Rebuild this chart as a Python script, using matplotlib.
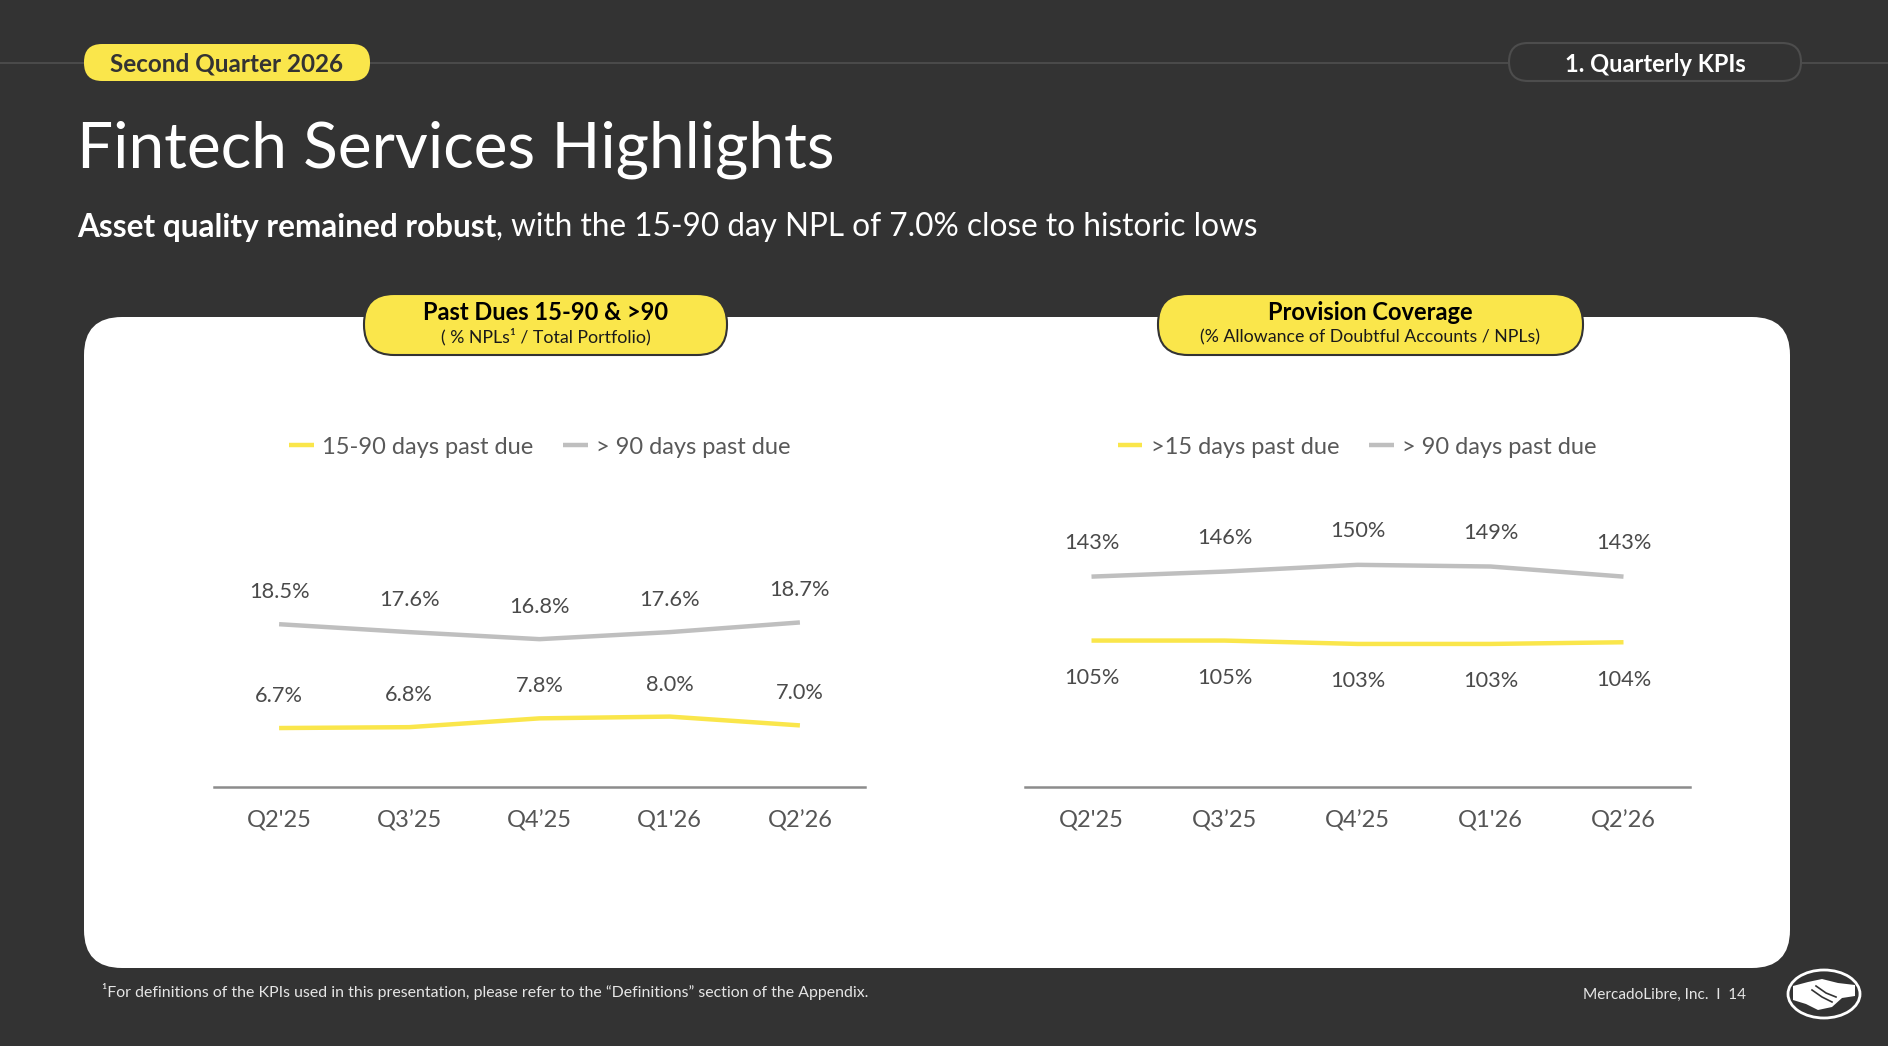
import matplotlib
matplotlib.use("Agg")
import matplotlib.pyplot as plt
from matplotlib.patches import FancyBboxPatch, Ellipse, Polygon

# ---------------- data ----------------
quarters = ["Q2'25", "Q3\u201925", "Q4\u201925", "Q1'26", "Q2\u201926"]
npl_15_90 = [6.7, 6.8, 7.8, 8.0, 7.0]
npl_90 = [18.5, 17.6, 16.8, 17.6, 18.7]
cov_15 = [105, 105, 103, 103, 104]
cov_90 = [143, 146, 150, 149, 143]

left_series_names = ["15-90 days past due", "> 90 days past due"]
right_series_names = [">15 days past due", "> 90 days past due"]

# ---------------- style ----------------
BG = "#333333"
YELLOW = "#FAE64B"
GREY_LINE = "#BFBFBF"
TXT = "#4a4a4a"
FONT = ["Lato", "DejaVu Sans"]
plt.rcParams["font.family"] = FONT

W, H = 1888, 1046
fig = plt.figure(figsize=(W / 100, H / 100), dpi=100, facecolor=BG)

bg = fig.add_axes([0, 0, 1, 1])
bg.set_xlim(0, W)
bg.set_ylim(H, 0)
bg.axis("off")
bg.set_facecolor(BG)

# top rule
bg.plot([0, W], [63, 63], color="#4a4a4a", lw=1.5, zorder=1)

# yellow quarter pill
bg.add_patch(FancyBboxPatch((84, 44), 286, 37, boxstyle="round,pad=0,rounding_size=18",
                            fc=YELLOW, ec="none", zorder=2))
bg.text(227, 64, "Second Quarter 2026", ha="center", va="center", fontsize=17.5,
        fontweight="bold", color="#333333", zorder=3)

# dark section pill
bg.add_patch(FancyBboxPatch((1509, 43), 292, 38, boxstyle="round,pad=0,rounding_size=19",
                            fc=BG, ec="#4d4d4d", lw=1.5, zorder=2))
bg.text(1655, 64, "1. Quarterly KPIs", ha="center", va="center", fontsize=17,
        fontweight="bold", color="white", zorder=3)

# title
bg.text(77, 150, "Fintech Services Highlights", ha="left", va="center", fontsize=46,
        fontweight="normal", color="white")

# subtitle (mixed weight)
t1 = bg.text(77, 227, "Asset quality remained robust", ha="left", va="center", fontsize=22.7,
             fontweight="bold", color="white")
fig.canvas.draw()
r = fig.canvas.get_renderer()
bb = t1.get_window_extent(renderer=r)
bg.text(bb.x1, 227, ", with the 15-90 day NPL of 7.0% close to historic lows", ha="left",
        va="center", fontsize=22.7, color="white")

# white panel
bg.add_patch(FancyBboxPatch((84, 317), 1706, 651, boxstyle="round,pad=0,rounding_size=38",
                            fc="white", ec="none", zorder=1))

# chart header pills
def header_pill(x0, x1, title, sub):
    bg.add_patch(FancyBboxPatch((x0, 294), x1 - x0, 61, boxstyle="round,pad=0,rounding_size=30",
                                fc=YELLOW, ec="#333333", lw=1.5, zorder=3))
    cx = (x0 + x1) / 2
    bg.text(cx, 313, title, ha="center", va="center", fontsize=17, fontweight="bold",
            color="black", zorder=4)
    bg.text(cx, 337, sub, ha="center", va="center", fontsize=12.8, color="#1a1a1a", zorder=4)

header_pill(364, 727, "Past Dues 15-90 & >90", "( % NPLs\u00b9 / Total Portfolio)")
header_pill(1158, 1583, "Provision Coverage", "(% Allowance of Doubtful Accounts / NPLs)")

# footer
bg.text(102, 992, "\u00b9For definitions of the KPIs used in this presentation, please refer to the "
        "\u201cDefinitions\u201d section of the Appendix.", ha="left", va="center",
        fontsize=11.4, color="#e6e6e6")
bg.text(1746, 995, "MercadoLibre, Inc.  I  14", ha="right", va="center", fontsize=11.1,
        color="#e6e6e6")

# logo (simplified handshake emblem)
bg.add_patch(Ellipse((1824, 994), 72, 48, fc="none", ec="white", lw=2, zorder=3))
bg.add_patch(Ellipse((1824, 994), 64, 40, fc=BG, ec="none", zorder=3))
bg.add_patch(Polygon([[1793, 986], [1808, 982], [1822, 979], [1838, 983], [1855, 985],
                      [1855, 996], [1842, 998], [1832, 1007], [1818, 1010], [1806, 1004],
                      [1793, 1000]], closed=True, fc="white", ec="none", zorder=4))
bg.plot([1812, 1822, 1832], [990, 997, 1002], color=BG, lw=1.2, zorder=5)
bg.plot([1816, 1826, 1836], [986, 993, 997], color=BG, lw=1.2, zorder=5)


def px_axes(x0, x1, ytop, ybot):
    return fig.add_axes([x0 / W, 1 - ybot / H, (x1 - x0) / W, (ybot - ytop) / H])


def style_axes(ax):
    ax.set_facecolor("none")
    for s in ["top", "left", "right"]:
        ax.spines[s].set_visible(False)
    ax.spines["bottom"].set_color("#8c8c8c")
    ax.spines["bottom"].set_linewidth(1.8)
    ax.set_yticks([])
    ax.set_xticks(range(len(quarters)))
    ax.set_xticklabels(quarters)
    ax.tick_params(axis="x", length=0, pad=16.5, labelsize=17, labelcolor="#555555")
    ax.set_xlim(-0.5, len(quarters) - 0.5)


x = list(range(len(quarters)))

# ---------------- left chart ----------------
axL = px_axes(214, 865, 567, 787)
style_axes(axL)
axL.set_ylim(0, 25)
lY, = axL.plot(x, npl_15_90, color=YELLOW, lw=3.2, solid_capstyle="butt",
               label=left_series_names[0])
lG, = axL.plot(x, npl_90, color=GREY_LINE, lw=3.2, solid_capstyle="butt",
               label=left_series_names[1])
for i, v in enumerate(npl_15_90):
    axL.annotate(f"{v:.1f}%", (i, v), xytext=(0, 23), textcoords="offset points",
                 ha="center", va="center", fontsize=15.7, color=TXT, annotation_clip=False)
for i, v in enumerate(npl_90):
    axL.annotate(f"{v:.1f}%", (i, v), xytext=(0, 23), textcoords="offset points",
                 ha="center", va="center", fontsize=15.7, color=TXT, annotation_clip=False)
axL.legend(handles=[lY, lG], loc="center", bbox_to_anchor=(540 / W, 1 - 447 / H),
           bbox_transform=fig.transFigure, ncol=2, frameon=False, fontsize=17,
           handlelength=1.05, handletextpad=0.35, columnspacing=1.25, labelcolor="#595959")

# ---------------- right chart ----------------
axR = px_axes(1025, 1690, 548, 787)
style_axes(axR)
axR.set_ylim(18, 160)
rY, = axR.plot(x, cov_15, color=YELLOW, lw=3.2, solid_capstyle="butt",
               label=right_series_names[0])
rG, = axR.plot(x, cov_90, color=GREY_LINE, lw=3.2, solid_capstyle="butt",
               label=right_series_names[1])
for i, v in enumerate(cov_90):
    axR.annotate(f"{v}%", (i, v), xytext=(0, 24), textcoords="offset points",
                 ha="center", va="center", fontsize=15.7, color=TXT, annotation_clip=False)
for i, v in enumerate(cov_15):
    axR.annotate(f"{v}%", (i, v), xytext=(0, -27), textcoords="offset points",
                 ha="center", va="center", fontsize=15.7, color=TXT, annotation_clip=False)
axR.legend(handles=[rY, rG], loc="center", bbox_to_anchor=(1357 / W, 1 - 447 / H),
           bbox_transform=fig.transFigure, ncol=2, frameon=False, fontsize=17,
           handlelength=1.05, handletextpad=0.35, columnspacing=1.25, labelcolor="#595959")

fig.savefig("out.png", dpi=100, facecolor=BG)
